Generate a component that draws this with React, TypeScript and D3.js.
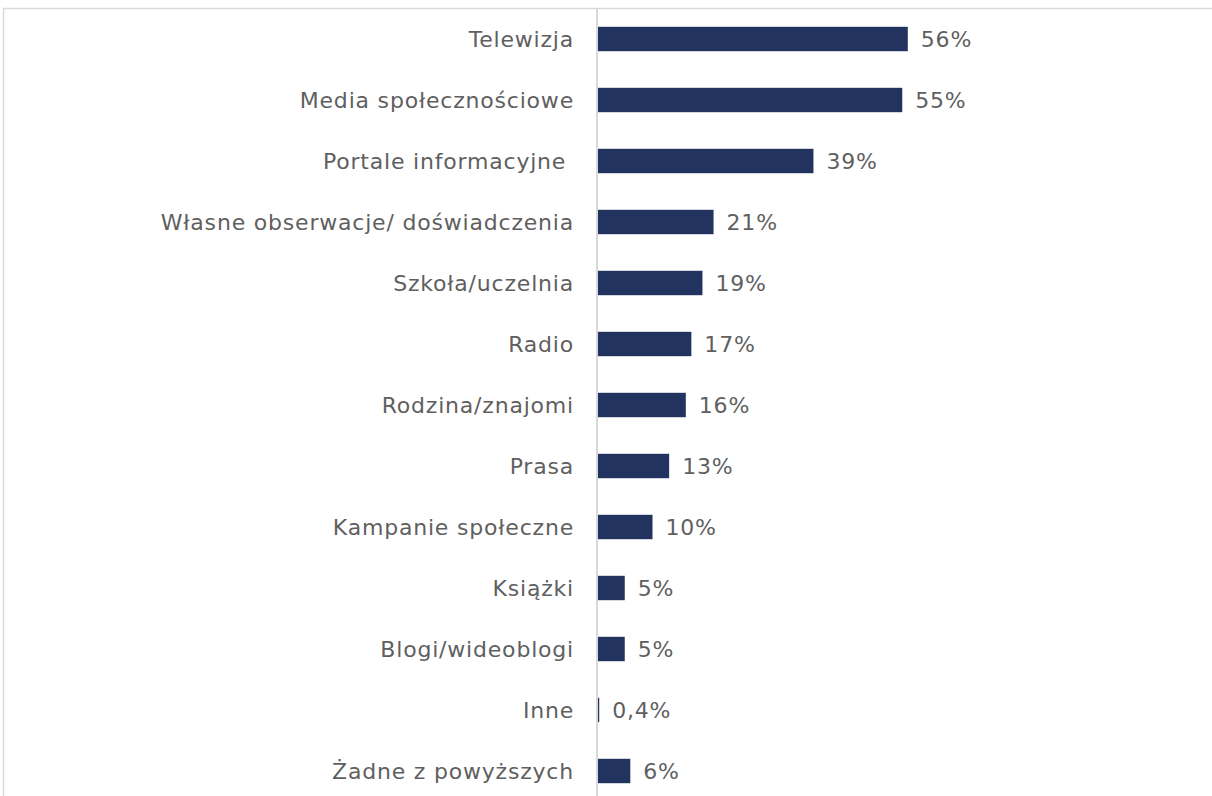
import React from 'react'
import { scaleBand, scaleLinear } from 'd3'

const categories = [
  'Telewizja',
  'Media społecznościowe',
  'Portale informacyjne ',
  'Własne obserwacje/ doświadczenia',
  'Szkoła/uczelnia',
  'Radio',
  'Rodzina/znajomi',
  'Prasa',
  'Kampanie społeczne',
  'Książki',
  'Blogi/wideoblogi',
  'Inne',
  'Żadne z powyższych',
]

const values = [56, 55, 39, 21, 19, 17, 16, 13, 10, 5, 5, 0.4, 6]

const WIDTH = 1212
const HEIGHT = 796
const BAR_COLOR = '#22335f'
const TEXT_COLOR = '#5f5f5f'
const FONT = '"DejaVu Sans", "Open Sans", sans-serif'

const fmt = (v: number) => `${String(v).replace('.', ',')}%`

export default function App(): JSX.Element {
  const x0 = 597
  const xScale = scaleLinear().domain([0, 100]).range([x0, x0 + 555])
  const yScale = scaleBand<string>()
    .domain(categories)
    .range([8.5, 801.5])
    .paddingInner(0.6)
    .paddingOuter(0.3)

  return (
    <div style={{ position: 'absolute', left: 0, top: 0 }}>
      <svg width={WIDTH} height={HEIGHT} xmlns="http://www.w3.org/2000/svg" style={{ display: 'block' }}>
        <rect x={0} y={0} width={WIDTH} height={HEIGHT} fill="#ffffff" />
        {/* chart area border */}
        <rect x={3.5} y={8.5} width={WIDTH + 10} height={HEIGHT + 10} fill="none" stroke="#d9d9d9" strokeWidth={1.5} />
        <g className="bars">
          {categories.map((c, i) => (
            <rect
              key={c}
              x={xScale(0)}
              y={yScale(c)}
              width={xScale(values[i]) - xScale(0)}
              height={yScale.bandwidth()}
              fill={BAR_COLOR}
            />
          ))}
        </g>
        <line x1={x0} x2={x0} y1={8.5} y2={HEIGHT} stroke="#d9d9d9" strokeWidth={2} />
        <g className="labels" fontFamily={FONT} fontSize={22} fill={TEXT_COLOR} letterSpacing={0.8}>
          {categories.map((c) => (
            <text
              key={c}
              x={x0 - 23}
              y={(yScale(c) as number) + yScale.bandwidth() / 2}
              dy="0.36em"
              textAnchor="end"
              style={{ whiteSpace: 'pre' }}
            >
              {c}
            </text>
          ))}
          {categories.map((c, i) => (
            <text
              key={c + '-v'}
              x={xScale(values[i]) + 13}
              y={(yScale(c) as number) + yScale.bandwidth() / 2}
              dy="0.36em"
            >
              {fmt(values[i])}
            </text>
          ))}
        </g>
      </svg>
    </div>
  )
}
